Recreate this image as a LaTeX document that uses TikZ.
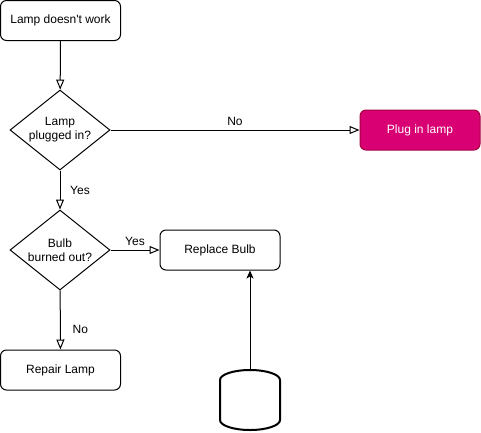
\documentclass[tikz,border=0pt]{standalone}
\usepackage{fontspec}
\setmainfont{Liberation Sans}
\usetikzlibrary{shapes.geometric,arrows.meta}
\definecolor{pinkfill}{HTML}{D80073}
\definecolor{pinkline}{HTML}{A50040}
\begin{document}
\begin{tikzpicture}[x=1pt,y=-1pt,
  font=\fontsize{12}{14}\selectfont,
  line width=1pt,
  procbox/.style={draw, rounded corners=6pt, minimum width=120pt, minimum height=40pt, inner sep=0pt, align=center},
  decision/.style={draw, diamond, aspect=1.25, minimum width=100pt, minimum height=80pt, inner sep=0pt, align=center},
  openarrow/.style={-{Triangle[open,length=10pt,width=8pt]}},
  lbl/.style={font=\fontsize{12}{14}\selectfont, inner sep=0pt}
]
\useasboundingbox (0,0) rectangle (481,432);
\node[procbox] (start) at (60.5,20.5) {Lamp doesn\textquotesingle t work};
\node[decision] (plug) at (60,130) {Lamp\\plugged in?};
\node[procbox, fill=pinkfill, draw=pinkline, text=white] (plugin) at (420,130) {Plug in lamp};
\node[decision] (bulb) at (60,250) {Bulb\\burned out?};
\node[procbox] (replace) at (220,250) {Replace Bulb};
\node[procbox] (repair) at (60.5,370) {Repair Lamp};
% cylinder
\coordinate (cyltop) at (250,370);
\draw[line width=2pt] (220,380) arc[start angle=180, end angle=360, x radius=30, y radius=10]
   arc[start angle=0, end angle=-180, x radius=30, y radius=10];
\draw[line width=2pt] (220,380) -- (220,420)
   arc[start angle=180, end angle=0, x radius=30, y radius=10] -- (280,380);
\draw[openarrow] (start) -- (plug);
\draw[openarrow] (plug) -- (plugin) node[lbl, midway, yshift=9pt] {No};
\draw[openarrow] (plug) -- (bulb) node[lbl, midway, xshift=20pt] {Yes};
\draw[openarrow] (bulb) -- (replace) node[lbl, midway, yshift=9pt] {Yes};
\draw[openarrow] (bulb) -- (repair) node[lbl, pos=0.667, xshift=20pt] {No};
\draw[-{Stealth[length=8pt,width=7pt,inset=2pt]}] (cyltop) -- (cyltop |- replace.south);
\end{tikzpicture}
\end{document}
